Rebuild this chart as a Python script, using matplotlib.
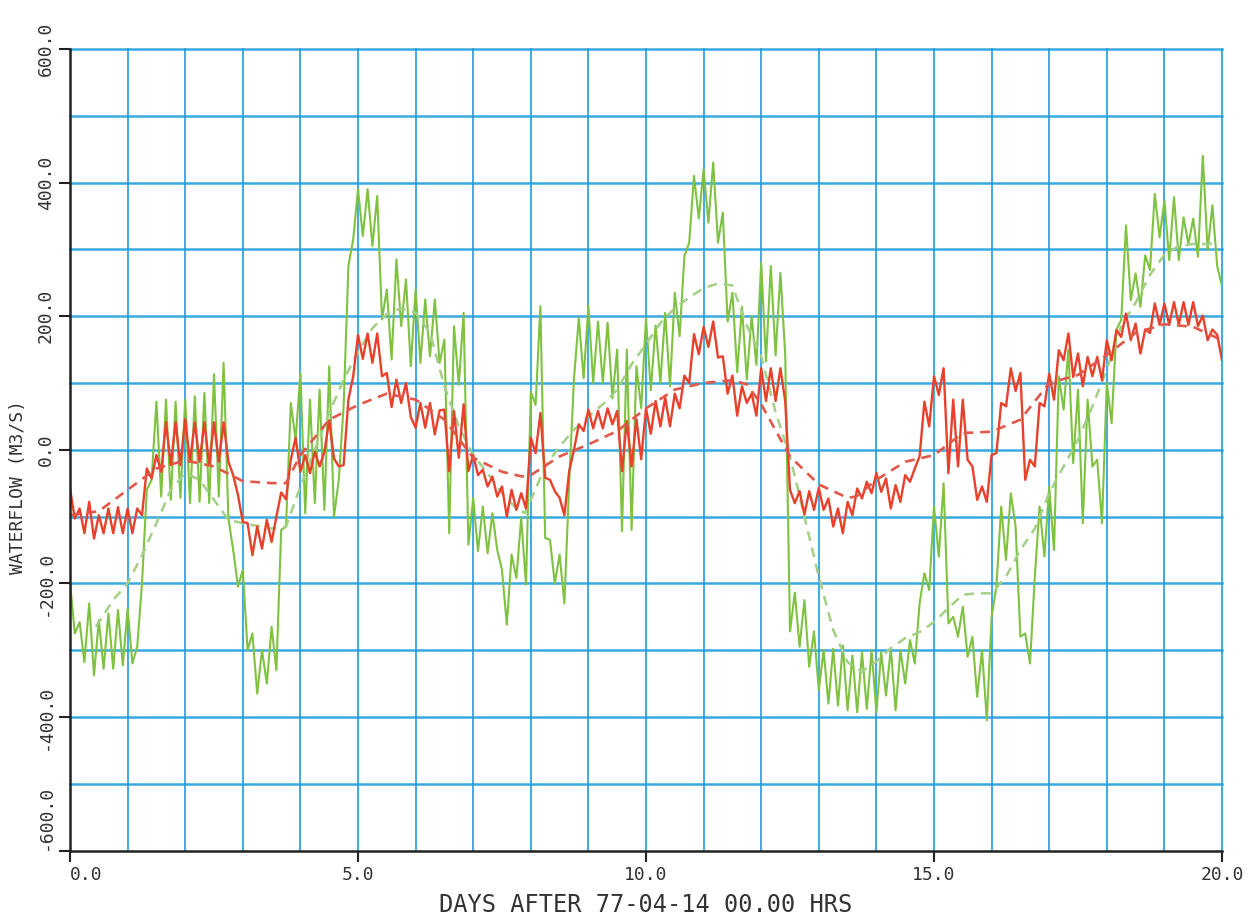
import numpy as np
import matplotlib
matplotlib.use("Agg")
import matplotlib.pyplot as plt

plt.rcParams['font.family'] = ['DejaVu Sans Mono']
plt.rcParams['lines.scale_dashes'] = False

# 2-hourly samples over 20 days
sample_hours = np.arange(0, 481, 2)
days = sample_hours / 24.0

# instantaneous waterflow (m3/s), one row per day (12 samples), last value at day 20
flow_green = [
    -198, -275, -258, -318, -230, -338, -255, -328, -245, -328, -240, -323,
    -238, -320, -295, -200, -60, -45, 72, -70, 75, -75, 72, -72,
    75, -80, 80, -78, 85, -80, 113, -70, 130, -103, -150, -205,
    -180, -300, -275, -365, -300, -350, -265, -330, -120, -115, 70, 15,
    115, -95, 75, -80, 90, -90, 125, -100, -45, 65, 275, 315,
    390, 320, 390, 305, 380, 195, 240, 135, 285, 185, 255, 125,
    240, 130, 225, 140, 225, 130, 165, -125, 185, 97, 205, -142,
    -72, -152, -85, -155, -95, -150, -180, -262, -157, -192, -102, -202,
    87, 67, 215, -132, -135, -200, -157, -230, -48, 107, 197, 107,
    215, 100, 192, 100, 190, 77, 150, -122, 150, -120, 125, 62,
    197, 89, 186, 100, 205, 95, 235, 170, 290, 310, 410, 346,
    420, 340, 430, 310, 355, 192, 235, 116, 214, 105, 200, 127,
    280, 132, 275, 141, 265, 143, -272, -214, -295, -225, -325, -272,
    -360, -300, -380, -298, -383, -293, -390, -308, -393, -303, -388, -300,
    -393, -303, -368, -298, -390, -300, -350, -285, -320, -230, -185, -210,
    -85, -160, -50, -260, -250, -280, -235, -310, -280, -370, -300, -405,
    -250, -205, -85, -165, -65, -115, -280, -275, -320, -190, -85, -160,
    -55, -150, 110, 60, 150, -20, 90, -110, 75, -25, -15, -110,
    100, 40, 180, 194, 336, 224, 264, 214, 291, 269, 383, 318,
    373, 284, 378, 284, 348, 308, 346, 289, 440, 299, 366, 275,
    245,
]

flow_red = [
    -58, -103, -88, -125, -78, -133, -98, -125, -88, -125, -86, -125,
    -88, -125, -88, -98, -28, -43, -8, -33, 41, -23, 41, -23,
    46, -18, 41, -18, 41, -23, 41, -18, 41, -18, -38, -68,
    -108, -110, -158, -115, -148, -105, -138, -100, -64, -74, -15, 18,
    -33, -8, -35, -3, -25, -3, 44, -13, -25, -23, 75, 110,
    172, 136, 174, 130, 174, 110, 115, 64, 105, 70, 100, 49,
    33, 70, 33, 70, 23, 59, 60, -32, 58, -12, 68, -32,
    -8, -38, -30, -55, -40, -70, -55, -100, -60, -90, -65, -88,
    18, -5, 55, -42, -45, -62, -72, -98, -32, 0, 38, 28,
    60, 32, 58, 32, 62, 38, 58, -32, 43, -25, 46, -14,
    62, 24, 73, 35, 78, 35, 84, 62, 111, 100, 173, 143,
    184, 154, 192, 138, 140, 84, 111, 51, 95, 70, 84, 51,
    122, 73, 122, 73, 122, 73, -60, -80, -62, -97, -62, -90,
    -57, -90, -73, -115, -88, -125, -78, -98, -58, -73, -48, -65,
    -35, -63, -43, -88, -53, -78, -38, -48, -28, -10, 72, 35,
    110, 82, 122, -35, 75, -25, 75, -15, -25, -75, -55, -78,
    -8, -5, 70, 65, 122, 88, 115, -45, -15, -25, 70, 65,
    114, 75, 149, 134, 174, 109, 144, 95, 139, 110, 139, 104,
    164, 134, 179, 169, 204, 164, 189, 144, 180, 175, 219, 187,
    219, 187, 221, 187, 221, 187, 221, 185, 201, 164, 180, 172,
    134,
]

# residual (tidally filtered) flow
trend_green_days = [
    0.45, 0.75, 1.0, 1.25, 1.5, 1.75, 2.0, 2.25, 2.5, 2.75,
    3.0, 3.5, 3.75, 4.0, 4.25, 4.5, 4.75, 5.0, 5.25, 5.5,
    5.75, 6.0, 6.25, 6.5, 6.75, 7.0, 7.25, 7.5, 7.75, 7.9,
    8.0, 8.25, 8.5, 8.75, 9.0, 9.25, 9.5, 9.75, 10.0, 10.25,
    10.5, 10.75, 11.0, 11.25, 11.5, 11.75, 12.0, 12.25, 12.5, 12.75,
    13.0, 13.25, 13.5, 13.75, 14.0, 14.25, 14.5, 14.75, 15.0, 15.25,
    15.5, 15.75, 16.0, 16.25, 16.5, 16.75, 17.0, 17.25, 17.5, 17.75,
    18.0, 18.25, 18.5, 18.75, 19.0, 19.25, 19.5, 19.75, 19.95,
]
trend_green = [
    -265, -225, -200, -158, -110, -60, -35, -45, -75, -105,
    -110, -118, -115, -55, 0, 55, 105, 146, 182, 203,
    212, 205, 175, 95, 35, -8, -35, -65, -88, -95,
    -75, -25, 5, 30, 50, 68, 90, 128, 158, 190,
    212, 228, 242, 249, 246, 186, 140, 56, -10, -100,
    -190, -270, -318, -332, -317, -297, -282, -273, -258, -237,
    -217, -215, -215, -190, -150, -118, -65, -25, 15, 65,
    120, 185, 220, 262, 292, 305, 308, 308, 310,
]

trend_red_days = [
    0, 0.5, 1.0, 1.5, 2.0, 2.5, 3.0, 3.5, 3.75, 4.0,
    4.5, 5.0, 5.5, 6.0, 6.5, 7.0, 7.5, 7.85, 8.0, 8.5,
    9.0, 9.5, 10.0, 10.5, 11.0, 11.5, 11.75, 12.0, 12.5, 13.0,
    13.5, 13.65, 14.0, 14.5, 15.0, 15.5, 16.0, 16.5, 17.0, 17.5,
    18.0, 18.5, 19.0, 19.5, 19.95,
]
trend_red = [
    -98, -92, -60, -28, -16, -25, -47, -50, -50, -8,
    45, 67, 84, 75, 45, -12, -33, -40, -38, -10,
    8, 28, 62, 90, 100, 104, 98, 68, -10, -52,
    -72, -70, -45, -18, -8, 25, 27, 45, 100, 112,
    142, 175, 188, 184, 166,
]

x_ticks = [0, 5, 10, 15, 20]
x_tick_labels = ["0.0", "5.0", "10.0", "15.0", "20.0"]
y_ticks = [-600, -400, -200, 0, 200, 400, 600]
y_tick_labels = ["-600.0", "-400.0", "-200.0", "0.0", "200.0", "400.0", "600.0"]

GRID_H = "#3aa9e0"
GRID_V = "#1f9ce0"
GREEN = "#7fc241"
GREEN_TREND = "#a3cf86"
RED = "#e8402b"
RED_TREND = "#e2574a"

W, H = 1258, 923
fig = plt.figure(figsize=(W / 100, H / 100), dpi=100)
fig.patch.set_facecolor("white")
left, right, top, bottom = 70, 1222, 49, 850.5
ax = fig.add_axes([left / W, 1 - bottom / H, (right - left) / W, (bottom - top) / H])

ax.set_xlim(0, 20)
ax.set_ylim(-600, 600)

# plotter grid
for v in range(-500, 601, 100):
    ax.axhline(v, color=GRID_H, lw=1.8, zorder=1, clip_on=False)
for d in range(1, 21):
    ax.axvline(d, color=GRID_V, lw=1.2, zorder=1, clip_on=False)

ax.plot(days, flow_green, color=GREEN, lw=1.5, zorder=3)
ax.plot(trend_green_days, trend_green, color=GREEN_TREND, lw=1.8,
        dashes=(7, 5), zorder=4)
ax.plot(days, flow_red, color=RED, lw=1.7, zorder=5)
ax.plot(trend_red_days, trend_red, color=RED_TREND, lw=1.9,
        dashes=(7, 5), zorder=6)

for side in ("top", "right"):
    ax.spines[side].set_visible(False)
for side in ("left", "bottom"):
    ax.spines[side].set_color("#222222")
    ax.spines[side].set_linewidth(1.8)
    ax.spines[side].set_zorder(7)

ax.set_xticks(x_ticks)
ax.set_xticklabels(x_tick_labels, fontsize=13, color="#333333")
ax.set_yticks(y_ticks)
ax.set_yticklabels(y_tick_labels, fontsize=13, color="#333333",
                   rotation=90, va="center")
ax.tick_params(axis="both", direction="out", length=8, width=1.5,
               color="#222222", pad=3)

ax.get_xticklabels()[0].set_horizontalalignment("left")
ax.get_yticklabels()[0].set_verticalalignment("bottom")

fig.text(646 / W, 1 - 905 / H, "DAYS AFTER 77-04-14 00.00 HRS",
         ha="center", va="center", fontsize=17, color="#333333")
fig.text(18 / W, 1 - 487 / H, "WATERFLOW (M3/S)", rotation=90,
         ha="center", va="center", fontsize=13, color="#333333")

fig.savefig("out.png", dpi=100, facecolor="white")
